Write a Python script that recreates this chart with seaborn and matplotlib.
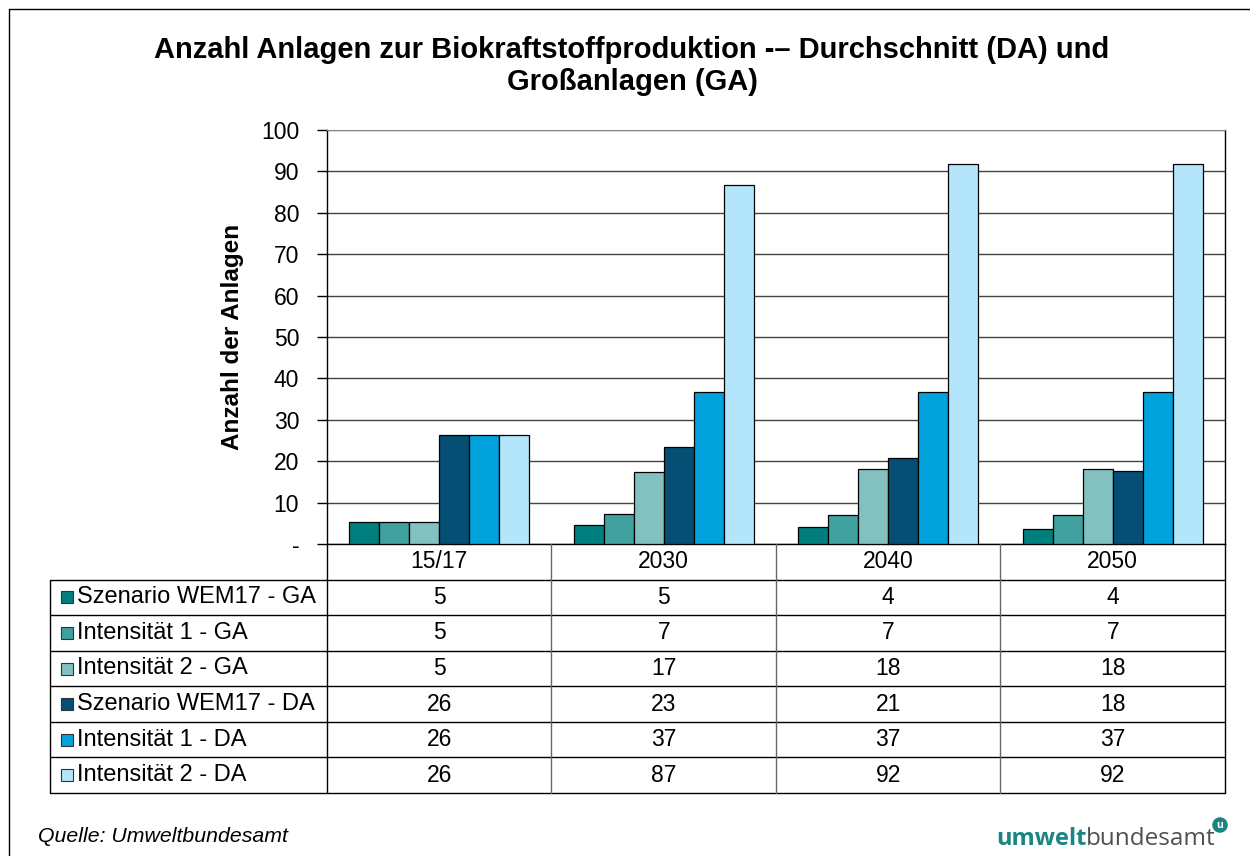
import matplotlib
matplotlib.use('Agg')
import numpy as np
import pandas as pd
import matplotlib.pyplot as plt
import seaborn as sns
from matplotlib.lines import Line2D

# data
categories = ['15/17', '2030', '2040', '2050']
series = ['Szenario WEM17 - GA', 'Intensität 1 - GA', 'Intensität 2 - GA',
          'Szenario WEM17 - DA', 'Intensität 1 - DA', 'Intensität 2 - DA']
wem17_ga = [5.2, 4.6, 4.0, 3.6]
int1_ga = [5.2, 7.2, 7.1, 7.1]
int2_ga = [5.2, 17.3, 18.2, 18.2]
wem17_da = [26.4, 23.4, 20.8, 17.6]
int1_da = [26.4, 36.6, 36.6, 36.6]
int2_da = [26.4, 86.6, 91.8, 91.8]
colors = ['#007F7E', '#41A19F', '#83C0C0', '#044F73', '#02A3DC', '#B3E5FB']

values = [wem17_ga, int1_ga, int2_ga, wem17_da, int1_da, int2_da]
df = pd.DataFrame([
    {'Jahr': c, 'Serie': s, 'Anzahl': v}
    for s, vals in zip(series, values)
    for c, v in zip(categories, vals)
])

W, H = 1250, 856
sns.set_style('white')
plt.rcParams['font.family'] = ['Liberation Sans', 'DejaVu Sans']
for k in ['text.color', 'axes.labelcolor', 'xtick.color', 'ytick.color']:
    plt.rcParams[k] = 'black'

fig = plt.figure(figsize=(W / 100, H / 100), dpi=100)


def fbox(x0, y0, x1, y1):
    # pixel box (top-left origin) -> figure fraction rect
    return [x0 / W, 1 - y1 / H, (x1 - x0) / W, (y1 - y0) / H]


ax = fig.add_axes(fbox(327, 130, 1225, 544))
sns.barplot(data=df, x='Jahr', y='Anzahl', hue='Serie', order=categories,
            hue_order=series, palette=colors, width=0.8, edgecolor='black',
            linewidth=0.9, saturation=1, legend=False, ax=ax, zorder=3)
ax.set_xlim(-0.5, 3.5)
ax.set_ylim(0, 100)
ax.set_yticks(range(0, 101, 10))
ax.set_yticklabels(['-'] + [str(t) for t in range(10, 101, 10)], fontsize=16.5)
ax.tick_params(axis='y', left=True, length=7, width=1, pad=13, color='black')
ax.set_xticks([])
ax.set_xlabel('')
ax.set_ylabel('Anzahl der Anlagen', fontsize=17.5, fontweight='bold', labelpad=12)
ax.grid(axis='y', color='#444444', linewidth=1, zorder=0)
ax.set_axisbelow(True)
for side in ['left', 'bottom', 'right']:
    ax.spines[side].set_color('black')
    ax.spines[side].set_linewidth(1)
ax.spines['top'].set_color('#888888')

# data table below the plot
tx = fig.add_axes(fbox(50, 544, 1225, 793))
x0 = -0.5 - 277 / 224.5
tx.set_xlim(x0, 3.5)
tx.set_ylim(7, 0)
tx.axis('off')
for r in range(1, 8):
    tx.plot([x0, 3.5], [r, r], color='black', lw=1, clip_on=False)
tx.plot([x0, x0], [1, 7], color='black', lw=1, clip_on=False)
for xv in [-0.5, 3.5]:
    tx.plot([xv, xv], [0, 7], color='black', lw=1, clip_on=False)
for xv in [0.5, 1.5, 2.5]:
    tx.plot([xv, xv], [0, 7], color='#666666', lw=1, clip_on=False)

for i, c in enumerate(categories):
    tx.text(i, 0.5, c, ha='center', va='center', fontsize=16.5)
px = 1 / 224.5
for r, (s, col, vals) in enumerate(zip(series, colors, values), start=1):
    tx.plot(x0 + 16.5 * px, r + 0.5, marker='s', markersize=8.6, color=col,
            markeredgecolor='#333333', markeredgewidth=0.8, clip_on=False)
    tx.text(x0 + 27 * px, r + 0.5, s, ha='left', va='center', fontsize=17)
    for i, v in enumerate(vals):
        tx.text(i, r + 0.5, f'{v:.0f}', ha='center', va='center', fontsize=16.5)

fig.text(632 / W, 1 - 66 / H,
         'Anzahl Anlagen zur Biokraftstoffproduktion -– Durchschnitt (DA) und\nGroßanlagen (GA)',
         ha='center', va='center', fontsize=21, fontweight='bold', linespacing=1.22)

fig.text(38 / W, 1 - 836 / H, 'Quelle: Umweltbundesamt', ha='left', va='center',
         fontsize=15.3, fontstyle='italic')

# logo
fig.canvas.draw()
renderer = fig.canvas.get_renderer()
t1 = fig.text(996 / W, 1 - 845 / H, 'umwelt', ha='left', va='baseline',
              fontsize=17, fontweight='bold', color='#1A8683', family='Open Sans')
bb = t1.get_window_extent(renderer)
t2 = fig.text(bb.x1 / W, 1 - 845 / H, 'bundesamt', ha='left', va='baseline',
              fontsize=17.5, color='#505050', family='Open Sans')
fig.text(1220 / W, 1 - 825 / H, 'u', ha='center', va='center',
         fontsize=7.5, fontweight='bold', color='white', family='Open Sans',
         bbox=dict(boxstyle='circle,pad=0.15', fc='#1A8683', ec='#1A8683'))

# outer frame (cropped on the right and bottom)
fig.add_artist(Line2D([9 / W, 1], [1 - 9 / H, 1 - 9 / H], color='black', lw=1))
fig.add_artist(Line2D([9 / W, 9 / W], [1 - 9 / H, 0], color='black', lw=1))

fig.savefig('out.png', dpi=100)
